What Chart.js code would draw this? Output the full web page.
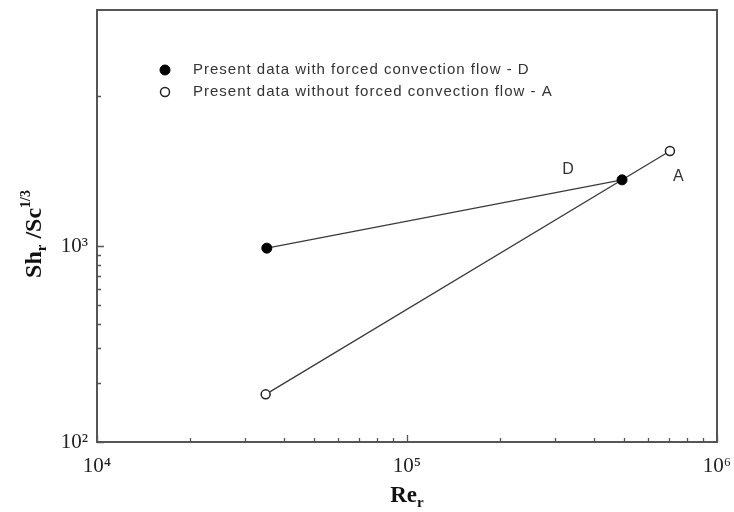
<!DOCTYPE html>
<html>
<head>
<meta charset="utf-8">
<script src="https://cdn.jsdelivr.net/npm/chart.js@4"></script>
<style>
  body { margin: 0; background: #fff; }
  #wrap { width: 734px; height: 512px; }
</style>
</head>
<body>
<div id="wrap"><canvas id="chart" width="734" height="512"></canvas></div>
<script>
// data
var reD = [35300, 494000];
var shD = [975, 2175];
var reA = [35000, 705000];
var shA = [175, 3055];
var legendText = ['Present data with forced convection flow - D', 'Present data without forced convection flow - A'];
var pointNames = ['D', 'A'];
var nameRe = [331000, 750000];
var nameSh = [2445, 2255];
var xTicks = [10000, 20000, 30000, 40000, 50000, 60000, 70000, 80000, 90000, 100000, 200000, 300000, 400000, 500000, 600000, 700000, 800000, 900000, 1000000];
var yTicks = [100, 200, 300, 400, 500, 600, 700, 800, 900, 1000, 5800];
var tickNames = { 100: '10\u00B2', 1000: '10\u00B3', 10000: '10\u2074', 100000: '10\u2075', 1000000: '10\u2076' };

function pts(xs, ys) {
    var out = [];
    for (var i = 0; i < xs.length; i++) out.push({ x: xs[i], y: ys[i] });
    return out;
}
function isMajor(v) {
    return tickNames[v] !== undefined;
}

// text with sub / superscripts, drawn left to right from x
function drawParts(ctx, parts, x, y, align) {
    var w = 0;
    parts.forEach(function (p) { ctx.font = p.font; w += ctx.measureText(p.t).width; });
    if (align == 'center') x -= w / 2;
    parts.forEach(function (p) {
        ctx.font = p.font;
        ctx.fillText(p.t, x, y + (p.dy || 0));
        x += ctx.measureText(p.t).width;
    });
}

var framePlugin = {
    id: 'frame',
    afterDraw: function (chart) {
        var ctx = chart.ctx, a = chart.chartArea;
        var xs = chart.scales.x, ys = chart.scales.y;
        ctx.save();
        ctx.strokeStyle = '#555';
        ctx.lineWidth = 2;
        ctx.strokeRect(a.left, a.top, a.right - a.left, a.bottom - a.top);
        ctx.lineWidth = 1.3;
        ctx.beginPath();
        xs.ticks.forEach(function (t) {
            var px = Math.round(xs.getPixelForValue(t.value)) + 0.5;
            var len = isMajor(t.value) ? 7 : 4;
            ctx.moveTo(px, a.bottom);
            ctx.lineTo(px, a.bottom - len);
        });
        ys.ticks.forEach(function (t) {
            var py = Math.round(ys.getPixelForValue(t.value)) + 0.5;
            var len = isMajor(t.value) ? 7 : 4;
            ctx.moveTo(a.left, py);
            ctx.lineTo(a.left + len, py);
        });
        ctx.stroke();

        // legend inside the plot
        ctx.fillStyle = '#333';
        ctx.textBaseline = 'middle';
        ctx.textAlign = 'left';
        ctx.letterSpacing = '1px';
        ctx.font = '15px "Liberation Sans", Arial, sans-serif';
        chart.data.datasets.forEach(function (ds, i) {
            var ly = a.top + 60 + i * 22;
            var lx = a.left + 68;
            ctx.beginPath();
            ctx.arc(lx, ly, ds.pointRadius, 0, Math.PI * 2);
            ctx.fillStyle = ds.pointBackgroundColor;
            ctx.fill();
            ctx.strokeStyle = ds.pointBorderColor;
            ctx.lineWidth = ds.pointBorderWidth;
            ctx.stroke();
            ctx.fillStyle = '#333';
            ctx.fillText(legendText[i], lx + 28, ly);
        });

        // D and A names near the lines
        ctx.letterSpacing = '0px';
        ctx.textAlign = 'center';
        ctx.font = '16px "Liberation Sans", Arial, sans-serif';
        for (var i = 0; i < pointNames.length; i++) {
            ctx.fillText(pointNames[i], xs.getPixelForValue(nameRe[i]), ys.getPixelForValue(nameSh[i]));
        }

        // axis titles
        ctx.fillStyle = '#111';
        ctx.textBaseline = 'alphabetic';
        ctx.textAlign = 'left';
        var serif = '"Liberation Serif", "Times New Roman", serif';
        drawParts(ctx, [
            { t: 'Re', font: 'bold 23px ' + serif },
            { t: 'r', font: 'bold 15px ' + serif, dy: 5 }
        ], (a.left + a.right) / 2, 502, 'center');

        ctx.translate(41, 234);
        ctx.rotate(-Math.PI / 2);
        drawParts(ctx, [
            { t: 'Sh', font: 'bold 24px ' + serif },
            { t: 'r', font: 'bold 15px ' + serif, dy: 5 },
            { t: ' /Sc', font: 'bold 24px ' + serif },
            { t: '1/3', font: 'bold 14px ' + serif, dy: -11 }
        ], 0, 0, 'center');
        ctx.restore();
    }
};

var ctx = document.getElementById('chart').getContext('2d');
var chart = new Chart(ctx, {
    type: 'line',
    data: {
        datasets: [{
            label: legendText[0],
            data: pts(reD, shD),
            borderColor: '#3a3a3a',
            borderWidth: 1.3,
            pointRadius: 5,
            pointBackgroundColor: '#000',
            pointBorderColor: '#000',
            pointBorderWidth: 1
        }, {
            label: legendText[1],
            data: pts(reA, shA),
            borderColor: '#3a3a3a',
            borderWidth: 1.3,
            pointRadius: 4.5,
            pointBackgroundColor: '#fff',
            pointBorderColor: '#222',
            pointBorderWidth: 1.5
        }]
    },
    options: {
        responsive: false,
        animation: false,
        layout: { padding: { left: 0, top: 10, right: 17, bottom: 0 } },
        plugins: {
            legend: { display: false },
            tooltip: { enabled: false }
        },
        scales: {
            x: {
                type: 'logarithmic',
                min: 10000,
                max: 1000000,
                afterBuildTicks: function (s) { s.ticks = xTicks.map(function (v) { return { value: v }; }); },
                afterFit: function (s) { s.height = 70; s.paddingLeft = 0; s.paddingRight = 0; },
                grid: { display: false, drawTicks: false },
                border: { display: false },
                ticks: {
                    autoSkip: false,
                    maxRotation: 0,
                    padding: 12,
                    color: '#222',
                    font: { family: '"Liberation Serif", "Times New Roman", serif', size: 21 },
                    callback: function (v) { return tickNames[v] || ''; }
                }
            },
            y: {
                type: 'logarithmic',
                min: 100,
                max: 16000,
                afterBuildTicks: function (s) { s.ticks = yTicks.map(function (v) { return { value: v }; }); },
                afterFit: function (s) { s.width = 97; s.paddingTop = 0; s.paddingBottom = 0; },
                grid: { display: false, drawTicks: false },
                border: { display: false },
                ticks: {
                    autoSkip: false,
                    padding: 9,
                    color: '#222',
                    font: { family: '"Liberation Serif", "Times New Roman", serif', size: 21 },
                    callback: function (v) { return tickNames[v] || ''; }
                }
            }
        }
    },
    plugins: [framePlugin]
});
</script>
</body>
</html>
